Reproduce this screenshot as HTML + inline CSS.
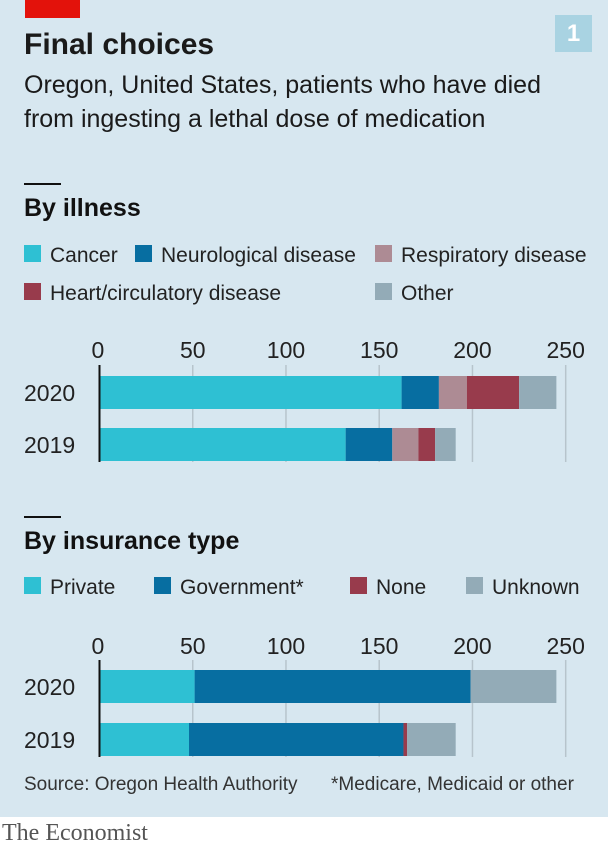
<!DOCTYPE html>
<html><head><meta charset="utf-8"><style>
body{margin:0;width:608px;height:853px;overflow:hidden;background:#fff;font-family:"Liberation Sans",sans-serif}
#bg{position:absolute;left:0;top:0;width:608px;height:817px;background:#d7e7f0}
.t{position:absolute;white-space:nowrap;color:#1a1a1a}
</style></head><body>
<div id="bg"></div>
<div style="position:absolute;left:25px;top:0;width:55px;height:18px;background:#e3120b"></div>
<div style="position:absolute;left:555px;top:15px;width:37px;height:37px;background:#a9d3e2;color:#fff;font:bold 24px 'Liberation Sans';text-align:center;line-height:37px">1</div>
<div class="t" style="left:24px;top:28px;font-size:30px;font-weight:bold">Final choices</div>
<div class="t" style="left:24px;top:68px;font-size:25px;line-height:34px">Oregon, United States, patients who have died<br>from ingesting a lethal dose of medication</div>
<div class="t" style="left:24px;top:774px;font-size:19px;color:#333">Source: Oregon Health Authority</div>
<div class="t" style="left:331px;top:774px;font-size:19px;color:#333">*Medicare, Medicaid or other</div>
<div class="t" style="left:2px;top:820px;font:24px 'Liberation Serif',serif;color:#555">The Economist</div>
<svg id="svg" width="608" height="817" style="position:absolute;left:0;top:0"></svg>
<script>
const years=["2020","2019"];
const ticks=[0,50,100,150,200,250];
const illnessNames=["Cancer","Neurological disease","Respiratory disease","Heart/circulatory disease","Other"];
const illnessColors=["#2ec0d3","#076ea1","#ad8b94","#983b4c","#93abb7"];
const cancer=[162,132];
const neuro=[20,25];
const respiratory=[15,14];
const heart=[28,9];
const other=[20,11];
const insNames=["Private","Government*","None","Unknown"];
const insColors=["#2ec0d3","#076ea1","#983b4c","#93abb7"];
const privateIns=[51,48];
const government=[148,115];
const noneIns=[0,2];
const unknown=[46,26];
const NS="http://www.w3.org/2000/svg";
const svg=document.getElementById('svg');
function mk(tag,attrs,txt){const e=document.createElementNS(NS,tag);for(const k in attrs)e.setAttribute(k,attrs[k]);if(txt!==undefined)e.textContent=txt;svg.appendChild(e);return e;}
const x=v=>99.5+v*(466.2/250);
function panel(o){
  const r=mk('rect',{x:24,y:o.ruleY,width:37,height:2,fill:'#111'});
  
  const h=mk('text',{x:24,y:o.ruleY+33,'font-size':25,'font-weight':'bold',fill:'#111'},o.heading);
  
  o.legend.forEach((l,i)=>{
    const g=mk('rect',{x:l[0],y:l[1]-17,width:17,height:17,fill:o.colors[i]});
    
    const t=mk('text',{x:l[0]+26,y:l[1],'font-size':21,fill:'#222'},o.names[i]);
    
  });
  ticks.forEach(v=>{
    if(v>0){const gl=mk('line',{x1:x(v),x2:x(v),y1:o.gTop,y2:o.gBot,stroke:'#b7c4cc','stroke-width':1.5});
    }
    const tl=mk('text',{x:x(v),y:o.tickY,'font-size':23,'text-anchor':v==0?'start':'middle',fill:'#222',dx:v==0?-8:0},String(v));
    
  });
  years.forEach((yr,j)=>{
    const yt=o.barY[j];
    const yl=mk('text',{x:24,y:yt+25,'font-size':23,fill:'#222'},yr);
    
    let acc=0;
    o.series.forEach((s,i)=>{
      const v=s[j];
      const b=mk('rect',{x:x(acc),y:yt,width:Math.max(0,x(acc+v)-x(acc)),height:33,fill:o.colors[i]});
      
      acc+=v;
    });
  });
  const ax=mk('line',{x1:99.5,x2:99.5,y1:o.gTop,y2:o.gBot,stroke:'#111','stroke-width':2});
  
}
panel({key:'illness',heading:'By illness',ruleY:183,names:illnessNames,colors:illnessColors,
  legend:[[24,262],[135,262],[375,262],[24,300],[375,300]],
  series:[cancer,neuro,respiratory,heart,other],tickY:358,gTop:365,gBot:462,barY:[376,428]});
panel({key:'insurance',heading:'By insurance type',ruleY:516,names:insNames,colors:insColors,
  legend:[[24,594],[154,594],[350,594],[466,594]],
  series:[privateIns,government,noneIns,unknown],tickY:654,gTop:660,gBot:757,barY:[670,723]});
</script>
</body></html>
